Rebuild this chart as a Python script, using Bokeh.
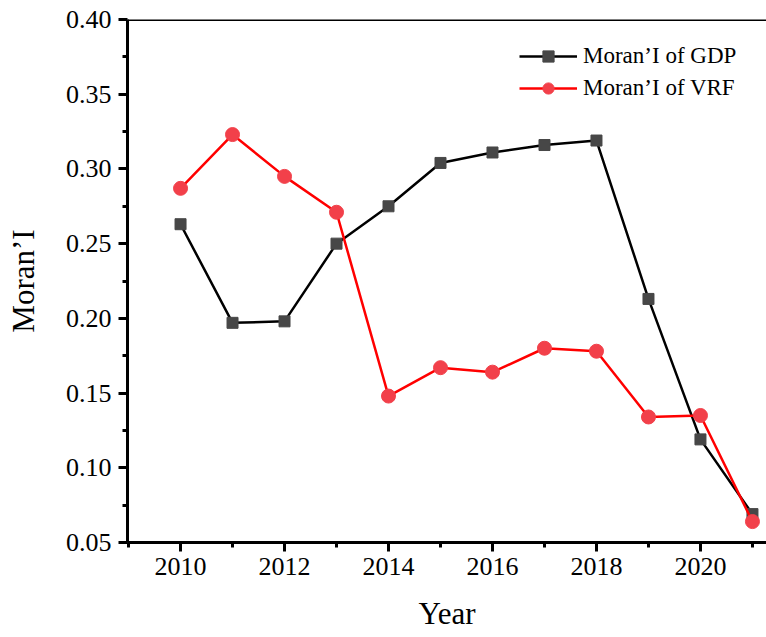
from bokeh.plotting import figure
from bokeh.models import FixedTicker, Range1d, Span, Legend, LegendItem, CustomJSTickFormatter
from bokeh.embed import file_html
from bokeh.resources import INLINE

years = [2010, 2011, 2012, 2013, 2014, 2015, 2016, 2017, 2018, 2019, 2020, 2021]
gdp = [0.263, 0.197, 0.198, 0.250, 0.275, 0.304, 0.311, 0.316, 0.319, 0.213, 0.119, 0.069]
vrf = [0.287, 0.323, 0.295, 0.271, 0.148, 0.167, 0.164, 0.180, 0.178, 0.134, 0.135, 0.064]
x_major = [2010, 2012, 2014, 2016, 2018, 2020]
x_minor = [2009, 2011, 2013, 2015, 2017, 2019, 2021]
y_major = [0.05, 0.10, 0.15, 0.20, 0.25, 0.30, 0.35, 0.40]
y_minor = [0.075, 0.125, 0.175, 0.225, 0.275, 0.325, 0.375]
series_names = ["Moran\u2019I of GDP", "Moran\u2019I of VRF"]
x_title = "Year"
y_title = "Moran\u2019I"

FONT = "Liberation Serif"

p = figure(width=766, height=637, output_backend="svg", toolbar_location=None,
           x_range=Range1d(2008.98, 2021.27), y_range=Range1d(0.05, 0.40),
           min_border_left=127, min_border_right=0, min_border_top=19, min_border_bottom=95)
p.background_fill_color = "white"
p.border_fill_color = "white"
p.outline_line_color = None
p.grid.visible = False

r1l = p.line(years, gdp, line_color="black", line_width=2.5)
r1m = p.scatter(years, gdp, marker="square", size=11, fill_color="#474747", line_color="#474747")
r2l = p.line(years, vrf, line_color="#ff0000", line_width=2.5)
r2m = p.scatter(years, vrf, marker="circle", size=14, fill_color="#f2404a", line_color="#f2404a")

p.add_layout(Span(location=0.40, dimension="width", line_color="black", line_width=3))

p.axis.axis_line_width = 3
p.axis.axis_line_color = "black"
p.axis.major_tick_line_width = 3
p.axis.minor_tick_line_width = 3
p.axis.major_tick_out = 9
p.axis.major_tick_in = 0
p.axis.minor_tick_out = 5
p.axis.minor_tick_in = 0
p.axis.major_label_text_font = FONT
p.axis.major_label_text_font_size = "26px"
p.axis.major_label_text_font_style = "normal"
p.axis.major_label_text_color = "black"
p.axis.axis_label_text_font = FONT
p.axis.axis_label_text_font_size = "31px"
p.axis.axis_label_text_font_style = "normal"
p.axis.axis_label_text_color = "black"

p.xaxis.ticker = FixedTicker(ticks=x_major, minor_ticks=x_minor)
p.yaxis.ticker = FixedTicker(ticks=y_major, minor_ticks=y_minor)
p.yaxis.formatter = CustomJSTickFormatter(code="return tick.toFixed(2);")
p.xaxis.axis_label = x_title
p.yaxis.axis_label = y_title
p.xaxis.major_label_standoff = 6
p.yaxis.major_label_standoff = 7
p.xaxis.axis_label_standoff = 18
p.yaxis.axis_label_standoff = 22

legend = Legend(items=[LegendItem(label=series_names[0], renderers=[r1l, r1m]),
                       LegendItem(label=series_names[1], renderers=[r2l, r2m])],
                location=(392, 440))
legend.border_line_color = None
legend.background_fill_alpha = 0
legend.padding = 0
legend.margin = 0
legend.spacing = 4
legend.glyph_width = 58
legend.glyph_height = 28
legend.label_height = 28
legend.label_standoff = 6
legend.label_text_font = FONT
legend.label_text_font_size = "23px"
legend.label_text_color = "black"
p.add_layout(legend)

open("out.html", "w").write(file_html(p, INLINE))
